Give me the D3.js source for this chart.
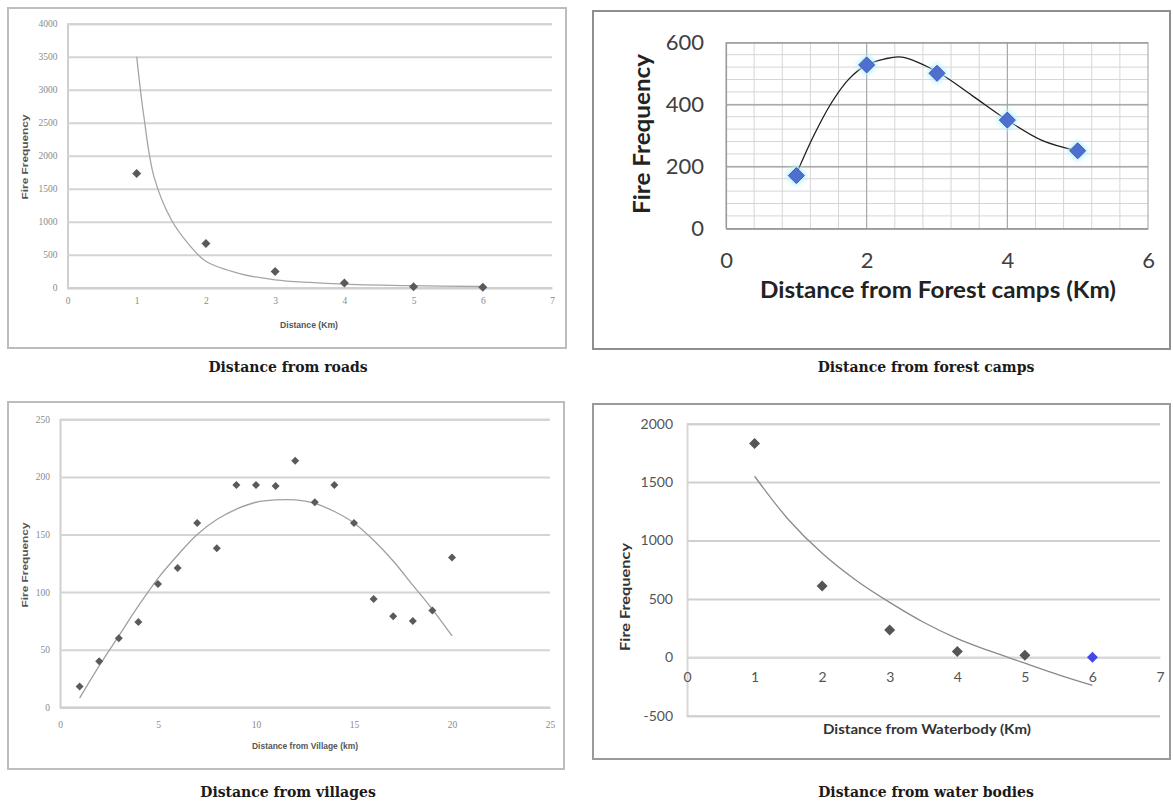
<!DOCTYPE html>
<html>
<head>
<meta charset="utf-8">
<title>Fire frequency and distance</title>
<style>
  body { margin: 0; background: #fff; }
  svg { display: block; }
  .caption { font-family: "DejaVu Serif", serif; font-weight: bold; font-size: 14px; fill: #1a1a1a; text-anchor: middle; }
  .small-tick { font-family: "Liberation Serif", serif; font-size: 9.5px; fill: #8a8a8a; }
  .small-title { font-family: "Liberation Sans", sans-serif; font-weight: bold; font-size: 8.5px; fill: #555; text-anchor: middle; }
  .big-tick { font-family: Lato, sans-serif; font-size: 22px; fill: #404040; }
  .big-title { font-family: Lato, sans-serif; font-weight: bold; font-size: 23px; fill: #222; text-anchor: middle; }
  .mid-tick { font-family: Lato, sans-serif; font-size: 14px; fill: #555; }
  .mid-title { font-family: Lato, sans-serif; font-weight: bold; font-size: 13px; fill: #333; text-anchor: middle; }
</style>
</head>
<body>
<svg id="chart"></svg>
<script src="https://d3js.org/d3.v7.min.js"></script>
<script>
// ---- data: distance from roads
const roadDist = [1, 2, 3, 4, 5, 6];
const roadFires = [1730, 670, 245, 70, 15, 5];
const roadTrendX = [1, 1.1, 1.25, 1.5, 1.75, 2, 2.5, 3, 3.5, 4, 5, 6];
const roadTrendY = [3500, 2620, 1680, 1030, 660, 400, 210, 120, 80, 55, 30, 18];
const roadXTicks = [0, 1, 2, 3, 4, 5, 6, 7];
const roadYTicks = [0, 500, 1000, 1500, 2000, 2500, 3000, 3500, 4000];

// ---- data: distance from forest camps
const campDist = [1, 2, 3, 4, 5];
const campFires = [170, 527, 500, 349, 250];
const campTrendX = [1, 1.25, 1.5, 1.75, 2, 2.25, 2.5, 3, 3.5, 4, 4.5, 5];
const campTrendY = [175, 300, 405, 482, 527, 546, 552, 505, 428, 349, 283, 250];
const campXTicks = [0, 2, 4, 6];
const campYTicks = [0, 200, 400, 600];

// ---- data: distance from villages
const villDist = [1, 2, 3, 4, 5, 6, 7, 8, 9, 10, 11, 12, 13, 14, 15, 16, 17, 18, 19, 20];
const villFires = [18, 40, 60, 74, 107, 121, 160, 138, 193, 193, 192, 214, 178, 193, 160, 94, 79, 75, 84, 130];
const villTrendX = [1, 2, 3, 4, 5, 6, 7, 8, 9, 10, 11, 12, 13, 14, 15, 16, 17, 18, 19, 20];
const villTrendY = [8, 36, 62, 88, 112, 132, 150, 163, 172, 178, 180, 180, 177, 170, 160, 145, 127, 106, 85, 62];
const villXTicks = [0, 5, 10, 15, 20, 25];
const villYTicks = [0, 50, 100, 150, 200, 250];

// ---- data: distance from water bodies
const waterDist = [1, 2, 3, 4, 5, 6];
const waterFires = [1830, 610, 234, 50, 18, 0];
const waterTrendX = [1, 1.5, 2, 2.5, 3, 3.5, 4, 4.5, 5, 5.5, 6];
const waterTrendY = [1550, 1180, 890, 660, 470, 300, 160, 50, -50, -150, -240];
const waterXTicks = [0, 1, 2, 3, 4, 5, 6, 7];
const waterYTicks = [-500, 0, 500, 1000, 1500, 2000];

const svg = d3.select("#chart").attr("width", 1173).attr("height", 803);

const defs = svg.append("defs");
defs.append("filter").attr("id", "glow")
  .attr("x", "-100%").attr("y", "-100%").attr("width", "300%").attr("height", "300%")
  .append("feGaussianBlur").attr("stdDeviation", 2.5);

function diamond(r) {
  return `M0,${-r}L${r},0L0,${r}L${-r},0Z`;
}

// Excel-ish scatter panel with trend line
function drawPanel(p) {
  const g = svg.append("g");

  g.append("rect")
    .attr("x", p.frame[0]).attr("y", p.frame[1])
    .attr("width", p.frame[2]).attr("height", p.frame[3])
    .attr("fill", "#fff").attr("stroke", p.frameColor).attr("stroke-width", p.frameWidth);

  const x = d3.scaleLinear().domain(p.xDomain).range(p.xRange);
  const y = d3.scaleLinear().domain(p.yDomain).range(p.yRange);

  // minor grid (forest camps only)
  if (p.minorY) {
    g.append("g").selectAll("line").data(p.minorY).join("line")
      .attr("x1", p.xRange[0]).attr("x2", p.xRange[1])
      .attr("y1", d => y(d)).attr("y2", d => y(d))
      .attr("stroke", "#d6d6d6").attr("stroke-width", 1);
    g.append("g").selectAll("line").data(p.minorX).join("line")
      .attr("y1", p.yRange[0]).attr("y2", p.yRange[1])
      .attr("x1", d => x(d)).attr("x2", d => x(d))
      .attr("stroke", "#d6d6d6").attr("stroke-width", 1);
    g.append("g").selectAll("line").data(p.xTicks).join("line")
      .attr("y1", p.yRange[0]).attr("y2", p.yRange[1])
      .attr("x1", d => x(d)).attr("x2", d => x(d))
      .attr("stroke", "#a0a0a0").attr("stroke-width", 1);
  }

  // horizontal gridlines via the axis
  const yAxis = d3.axisLeft(y).tickValues(p.yTicks).tickFormat(d => String(d))
    .tickSize(-(p.xRange[1] - p.xRange[0])).tickPadding(p.yPad);
  const ya = g.append("g")
    .attr("transform", `translate(${p.xRange[0]},0)`)
    .call(yAxis);
  ya.select(".domain").attr("stroke", p.axisColor).attr("stroke-width", p.gridWidth);
  ya.selectAll(".tick line").attr("stroke", p.gridColor).attr("stroke-width", p.gridWidth);
  ya.selectAll(".tick text").attr("class", p.tickClass).attr("fill", null);
  ya.attr("font-size", null).attr("font-family", null);

  // x axis labels sit under the zero line
  const xAxis = d3.axisBottom(x).tickValues(p.xTicks).tickFormat(d => String(d))
    .tickSize(0).tickPadding(p.xPad);
  const xa = g.append("g")
    .attr("transform", `translate(0,${y(p.xAxisAt)})`)
    .call(xAxis);
  xa.select(".domain").attr("stroke", p.axisColor).attr("stroke-width", p.gridWidth);
  xa.selectAll(".tick text").attr("class", p.tickClass).attr("fill", null);
  xa.attr("font-size", null).attr("font-family", null);

  // trend line
  const trend = p.trendX.map((d, i) => [d, p.trendY[i]]);
  g.append("path")
    .datum(trend)
    .attr("fill", "none")
    .attr("stroke", p.trendColor)
    .attr("stroke-width", p.trendWidth)
    .attr("d", d3.line().x(d => x(d[0])).y(d => y(d[1])).curve(d3.curveCatmullRom.alpha(0.5)));

  // markers
  const pts = p.xs.map((d, i) => ({ x: d, y: p.ys[i], i: i }));
  if (p.glow) {
    g.append("g").selectAll("path").data(pts).join("path")
      .attr("transform", d => `translate(${x(d.x)},${y(d.y)})`)
      .attr("d", diamond(p.markerR + 3))
      .attr("fill", p.glow)
      .attr("filter", "url(#glow)");
  }
  g.append("g").selectAll("path").data(pts).join("path")
    .attr("transform", d => `translate(${x(d.x)},${y(d.y)})`)
    .attr("d", diamond(p.markerR))
    .attr("fill", d => (p.markerColors && p.markerColors[d.i]) || p.markerColor)
    .attr("stroke", p.markerStroke || "none")
    .attr("stroke-width", 1);

  // axis titles
  g.append("text").attr("class", p.titleClass)
    .attr("x", p.xTitle[0]).attr("y", p.xTitle[1])
    .attr("textLength", p.xTitle[2]).attr("lengthAdjust", "spacingAndGlyphs")
    .text(p.xLabel);
  g.append("text").attr("class", p.titleClass)
    .attr("transform", `translate(${p.yTitle[0]},${p.yTitle[1]}) rotate(-90)`)
    .attr("dy", "0.35em")
    .attr("textLength", p.yTitle[2]).attr("lengthAdjust", "spacingAndGlyphs")
    .text("Fire Frequency");

  // caption under the panel
  svg.append("text").attr("class", "caption")
    .attr("x", p.caption[0]).attr("y", p.caption[1])
    .text(p.captionText);
}

drawPanel({
  frame: [8, 8, 558, 340], frameColor: "#bdbdbd", frameWidth: 2,
  xDomain: [0, 7], xRange: [67.5, 552], yDomain: [0, 4000], yRange: [287.7, 23.7],
  xTicks: roadXTicks, yTicks: roadYTicks, xAxisAt: 0, xPad: 10, yPad: 10,
  gridColor: "#d4d4d4", axisColor: "#cfcfcf", gridWidth: 2,
  tickClass: "small-tick", titleClass: "small-title",
  xs: roadDist, ys: roadFires, trendX: roadTrendX, trendY: roadTrendY,
  trendColor: "#a5a5a5", trendWidth: 1.3,
  markerR: 4.5, markerColor: "#5a5a5a",
  xLabel: "Distance (Km)", xTitle: [309, 328, 58], yTitle: [25, 157, 85],
  caption: [288, 372], captionText: "Distance from roads"
});

drawPanel({
  frame: [593, 11, 577, 338], frameColor: "#8f8f8f", frameWidth: 2,
  xDomain: [0, 6], xRange: [726, 1148], yDomain: [0, 600], yRange: [228.3, 42.3],
  xTicks: campXTicks, yTicks: campYTicks, xAxisAt: 0, xPad: 24, yPad: 22,
  minorY: d3.range(40, 600, 40), minorX: d3.range(0.4, 6, 0.4),
  gridColor: "#9a9a9a", axisColor: "#9a9a9a", gridWidth: 1.2,
  tickClass: "big-tick", titleClass: "big-title",
  xs: campDist, ys: campFires, trendX: campTrendX, trendY: campTrendY,
  trendColor: "#1e1e1e", trendWidth: 1.3,
  markerR: 8, markerColor: "#4f6fd0", markerStroke: "#3f57b0", glow: "#b8f1ff",
  xLabel: "Distance from Forest camps (Km)", xTitle: [938, 298, 356], yTitle: [642, 134, 160],
  caption: [926, 372], captionText: "Distance from forest camps"
});

drawPanel({
  frame: [8, 402, 556, 367], frameColor: "#bdbdbd", frameWidth: 2,
  xDomain: [0, 25], xRange: [60, 550], yDomain: [0, 250], yRange: [707.3, 419.3],
  xTicks: villXTicks, yTicks: villYTicks, xAxisAt: 0, xPad: 14, yPad: 10,
  gridColor: "#d4d4d4", axisColor: "#cfcfcf", gridWidth: 2,
  tickClass: "small-tick", titleClass: "small-title",
  xs: villDist, ys: villFires, trendX: villTrendX, trendY: villTrendY,
  trendColor: "#a0a0a0", trendWidth: 1.3,
  markerR: 4, markerColor: "#5a5a5a",
  xLabel: "Distance from Village (km)", xTitle: [305, 749, 106], yTitle: [25, 565, 85],
  caption: [288, 797], captionText: "Distance from villages"
});

drawPanel({
  frame: [593, 404, 577, 355], frameColor: "#9a9a9a", frameWidth: 2,
  xDomain: [0, 7], xRange: [687, 1160], yDomain: [-500, 2000], yRange: [715.7, 423.7],
  xTicks: waterXTicks, yTicks: waterYTicks, xAxisAt: 0, xPad: 15, yPad: 14,
  gridColor: "#d0d0d0", axisColor: "#d8d8d8", gridWidth: 2,
  tickClass: "mid-tick", titleClass: "mid-title",
  xs: waterDist, ys: waterFires, trendX: waterTrendX, trendY: waterTrendY,
  trendColor: "#8a8a8a", trendWidth: 1.3,
  markerR: 5.5, markerColor: "#555", markerColors: [null, null, null, null, null, "#4646e6"],
  xLabel: "Distance from Waterbody (Km)", xTitle: [927, 734, 208], yTitle: [625, 597, 108],
  caption: [926, 797], captionText: "Distance from water bodies"
});
</script>
</body>
</html>
